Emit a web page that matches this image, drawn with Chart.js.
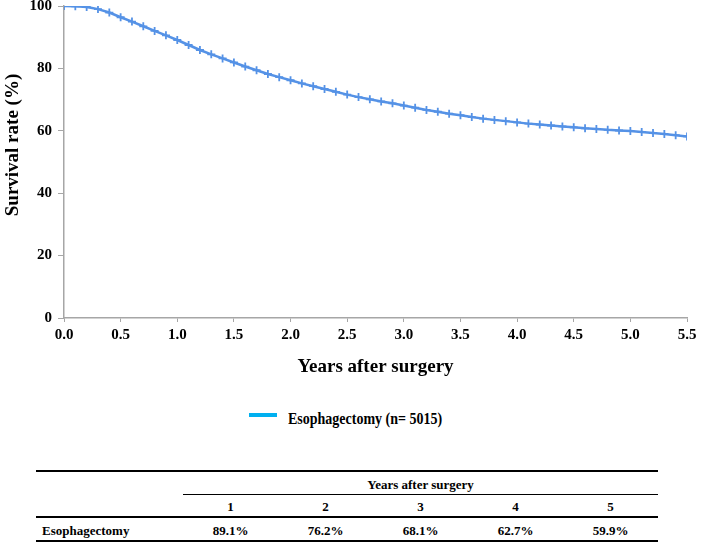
<!DOCTYPE html>
<html>
<head>
<meta charset="utf-8">
<title>Survival after esophagectomy</title>
<script src="https://cdn.jsdelivr.net/npm/chart.js@4"></script>
<style>
    body { margin: 0; background: #fff; }
    #wrap { position: relative; width: 709px; height: 543px; overflow: hidden; font-family: "Liberation Serif", "Times New Roman", serif; font-weight: bold; color: #000; }
    #chart { position: absolute; left: 0; top: 0; }
    .abs { position: absolute; white-space: nowrap; }
    .rule { position: absolute; background: #000; }
    #y-title { left: -88px; top: 134px; width: 200px; line-height: 22px; font-size: 19px; text-align: center; transform: rotate(-90deg); }
    #legend-line { left: 249px; top: 413px; width: 28px; height: 4px; background: #00b0f0; }
    #legend-text { left: 288px; top: 410px; font-size: 16px; line-height: 18px; transform: scaleX(0.875); transform-origin: left center; }
    .cell { font-size: 13px; line-height: 16px; text-align: center; }
</style>
</head>
<body>
<div id="wrap">
    <canvas id="chart" width="709" height="390"></canvas>
    <div id="y-title" class="abs">Survival rate (%)</div>
    <div id="legend-line" class="abs"></div>
    <div id="legend-text" class="abs"></div>
    <div id="table"></div>
</div>
<script>
// --- Data ---

const years = [0.0, 0.1, 0.2, 0.3, 0.4, 0.5, 0.6, 0.7, 0.8, 0.9,
    1.0, 1.1, 1.2, 1.3, 1.4, 1.5, 1.6, 1.7, 1.8, 1.9,
    2.0, 2.1, 2.2, 2.3, 2.4, 2.5, 2.6, 2.7, 2.8, 2.9,
    3.0, 3.1, 3.2, 3.3, 3.4, 3.5, 3.6, 3.7, 3.8, 3.9,
    4.0, 4.1, 4.2, 4.3, 4.4, 4.5, 4.6, 4.7, 4.8, 4.9,
    5.0, 5.1, 5.2, 5.3, 5.4, 5.5];

const survival = [100, 99.9, 99.7, 99.0, 97.9, 96.4, 95.0, 93.5, 92.0, 90.6,
    89.1, 87.5, 85.9, 84.5, 83.2, 81.9, 80.6, 79.4, 78.2, 77.2,
    76.2, 75.2, 74.3, 73.4, 72.5, 71.6, 70.8, 70.1, 69.4, 68.8,
    68.1, 67.4, 66.7, 66.1, 65.5, 65.0, 64.4, 63.9, 63.5, 63.1,
    62.7, 62.3, 62.0, 61.7, 61.4, 61.1, 60.8, 60.6, 60.3, 60.1,
    59.9, 59.6, 59.3, 59.0, 58.6, 58.2];

const seriesLabel = 'Esophagectomy (n= 5015)';
const rowLabel = 'Esophagectomy';
const tableYears = [1, 2, 3, 4, 5];
const tableRates = [89.1, 76.2, 68.1, 62.7, 59.9];

const fontFamily = '"Liberation Serif", "Times New Roman", serif';
const axisGray = '#a6a6a6';

// --- Chart ---

function renderChart() {
    const ctx = document.getElementById('chart').getContext('2d');
    new Chart(ctx, {
        type: 'line',
        data: {
            datasets: [{
                label: seriesLabel,
                data: years.map((x, i) => ({ x: x, y: survival[i] })),
                borderColor: '#5592e6',
                backgroundColor: '#5592e6',
                borderWidth: 2.5,
                pointStyle: 'cross',
                pointRadius: 4,
                pointBorderWidth: 1.8,
                fill: false
            }]
        },
        options: {
            responsive: false,
            devicePixelRatio: 1,
            animation: false,
            layout: { padding: 0 },
            plugins: {
                legend: { display: false },
                tooltip: { enabled: false }
            },
            scales: {
                x: {
                    type: 'linear',
                    min: 0,
                    max: 5.5,
                    border: { color: axisGray, width: 1.5 },
                    grid: { drawOnChartArea: false, tickLength: 4, color: axisGray },
                    ticks: {
                        stepSize: 0.5,
                        padding: 4,
                        color: '#000',
                        font: { family: fontFamily, size: 15, weight: 'bold' },
                        callback: (v) => v.toFixed(1)
                    },
                    title: {
                        display: true,
                        text: 'Years after surgery',
                        color: '#000',
                        padding: { top: 0, bottom: 12 },
                        font: { family: fontFamily, size: 19, weight: 'bold' }
                    },
                    afterFit: (s) => {
                        s.height = 72;
                        s.paddingLeft = 0;
                        s.paddingRight = 22;
                    }
                },
                y: {
                    min: 0,
                    max: 100,
                    border: { color: axisGray, width: 1.5 },
                    grid: { drawOnChartArea: false, tickLength: 6, color: axisGray },
                    ticks: {
                        stepSize: 20,
                        padding: 6,
                        color: '#000',
                        font: { family: fontFamily, size: 15, weight: 'bold' }
                    },
                    afterFit: (s) => {
                        s.width = 64;
                        s.paddingTop = 6;
                        s.paddingBottom = 0;
                    }
                }
            }
        }
    });
}

// --- Legend + table below the plot ---

function addRule(parent, left, top, width, height) {
    const d = document.createElement('div');
    d.className = 'rule';
    d.style.left = left + 'px';
    d.style.top = top + 'px';
    d.style.width = width + 'px';
    d.style.height = height + 'px';
    parent.appendChild(d);
}

function addCell(parent, text, left, top, width, align) {
    const d = document.createElement('div');
    d.className = 'abs cell';
    d.textContent = text;
    d.style.left = left + 'px';
    d.style.top = top + 'px';
    d.style.width = width + 'px';
    if (align) d.style.textAlign = align;
    parent.appendChild(d);
}

function renderTable() {
    document.getElementById('legend-text').textContent = seriesLabel;

    const t = document.getElementById('table');
    const tLeft = 36, tRight = 658, colStart = 183;
    const colW = (tRight - colStart) / tableYears.length;

    addRule(t, tLeft, 470, tRight - tLeft, 2);
    addCell(t, 'Years after surgery', colStart, 477, tRight - colStart);
    addRule(t, colStart, 494, tRight - colStart, 1);

    tableYears.forEach((yr, i) => {
        addCell(t, String(yr), colStart + i * colW, 499, colW);
        addCell(t, tableRates[i].toFixed(1) + '%', colStart + i * colW, 523, colW);
    });

    addRule(t, tLeft, 516, tRight - tLeft, 2);
    addCell(t, rowLabel, 42, 523, 140, 'left');
    addRule(t, tLeft, 540, tRight - tLeft, 2);
}

renderChart();
renderTable();
</script>
</body>
</html>
